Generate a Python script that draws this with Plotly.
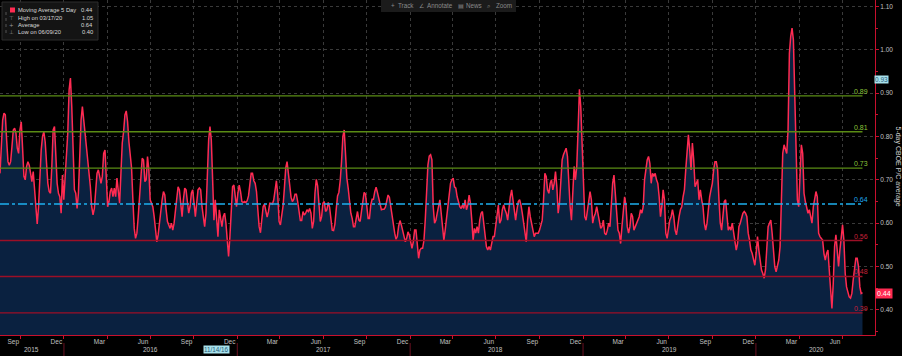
import pandas as pd
import plotly.graph_objects as go

# ---------------- data ----------------
vals_2015_2016 = [
    0.715, 0.777, 0.838, 0.854, 0.850, 0.792, 0.742, 0.734, 0.742, 0.777,
    0.815, 0.819, 0.808, 0.773, 0.761, 0.815, 0.834, 0.773, 0.708, 0.700,
    0.731, 0.742, 0.734, 0.715, 0.696, 0.719, 0.684, 0.638, 0.598, 0.638,
    0.723, 0.769, 0.800, 0.811, 0.788, 0.738, 0.692, 0.673, 0.669, 0.731,
    0.815, 0.823, 0.761, 0.692, 0.669, 0.661, 0.623, 0.711, 0.654, 0.708,
    0.761, 0.808, 0.908, 0.935, 0.869, 0.761, 0.677, 0.669, 0.634, 0.669,
    0.761, 0.838, 0.869, 0.831, 0.808, 0.777, 0.746, 0.719, 0.684, 0.638,
    0.619, 0.634, 0.684, 0.715, 0.723, 0.708, 0.692, 0.708, 0.761, 0.769,
    0.684, 0.638, 0.650, 0.673, 0.681, 0.661, 0.681, 0.661, 0.704, 0.669,
    0.646, 0.715, 0.785, 0.811, 0.850, 0.859, 0.834, 0.788, 0.754, 0.727,
    0.654, 0.588, 0.565, 0.577, 0.615, 0.669, 0.719, 0.750, 0.746, 0.696,
    0.700, 0.754, 0.723, 0.654, 0.646, 0.638, 0.615, 0.584, 0.557, 0.573,
    0.604, 0.627, 0.654, 0.673, 0.665, 0.631, 0.604, 0.596, 0.588, 0.600,
    0.584, 0.600, 0.631, 0.669, 0.684, 0.677, 0.638, 0.615, 0.654, 0.681,
    0.677, 0.646, 0.623, 0.638, 0.669, 0.677, 0.638, 0.615, 0.646, 0.677,
    0.681, 0.677, 0.638, 0.607, 0.592, 0.623, 0.723, 0.792, 0.823, 0.792,
    0.700, 0.607,
]
vals_2016_2017 = [
    0.654, 0.607, 0.569, 0.631, 0.607, 0.592, 0.615, 0.623, 0.600, 0.561,
    0.523, 0.569, 0.631, 0.684, 0.688, 0.661, 0.638, 0.669, 0.688, 0.673,
    0.650, 0.648, 0.650, 0.648, 0.652, 0.663, 0.684, 0.715, 0.715, 0.698,
    0.692, 0.673, 0.631, 0.592, 0.578, 0.604, 0.638, 0.644, 0.631, 0.614,
    0.627, 0.646, 0.646, 0.644, 0.654, 0.681, 0.698, 0.665, 0.604, 0.596,
    0.619, 0.640, 0.681, 0.727, 0.742, 0.711, 0.677, 0.660, 0.650, 0.655,
    0.667, 0.667, 0.650, 0.631, 0.606, 0.606, 0.627, 0.619, 0.623, 0.631,
    0.627, 0.634, 0.623, 0.588, 0.604, 0.669, 0.701, 0.686, 0.638, 0.604,
    0.615, 0.646, 0.650, 0.627, 0.631, 0.648, 0.637, 0.607, 0.584, 0.583,
    0.598, 0.632, 0.663, 0.671, 0.698, 0.742, 0.800, 0.815, 0.746, 0.704,
    0.681, 0.646, 0.623, 0.611, 0.592, 0.592, 0.615, 0.627, 0.607, 0.604,
    0.627, 0.654, 0.671, 0.667, 0.642, 0.611, 0.611, 0.642, 0.655, 0.655,
    0.673, 0.683, 0.671, 0.655, 0.640, 0.631, 0.632, 0.632, 0.637, 0.652,
    0.665, 0.660, 0.637, 0.611, 0.592, 0.577, 0.563, 0.570, 0.594, 0.606,
    0.596, 0.580, 0.569, 0.557, 0.565, 0.580, 0.573, 0.553, 0.542, 0.557,
    0.584, 0.584, 0.542, 0.519, 0.538, 0.542, 0.542, 0.560, 0.607, 0.677,
    0.734, 0.755,
]
vals_2018_2019 = [
    0.758, 0.746, 0.638, 0.600, 0.607, 0.623, 0.638, 0.654, 0.623, 0.584,
    0.561, 0.584, 0.615, 0.638, 0.669, 0.692, 0.700, 0.704, 0.684, 0.681,
    0.661, 0.646, 0.638, 0.634, 0.642, 0.634, 0.654, 0.631, 0.642, 0.665,
    0.646, 0.607, 0.561, 0.588, 0.577, 0.592, 0.577, 0.607, 0.623, 0.627,
    0.600, 0.569, 0.546, 0.538, 0.546, 0.538, 0.553, 0.569, 0.569, 0.592,
    0.623, 0.642, 0.600, 0.607, 0.631, 0.642, 0.631, 0.623, 0.607, 0.638,
    0.661, 0.677, 0.650, 0.623, 0.607, 0.631, 0.650, 0.654, 0.642, 0.623,
    0.600, 0.577, 0.557, 0.607, 0.638, 0.615, 0.600, 0.577, 0.569, 0.577,
    0.577, 0.577, 0.584, 0.600, 0.607, 0.654, 0.715, 0.708, 0.677, 0.669,
    0.692, 0.700, 0.677, 0.692, 0.719, 0.684, 0.623, 0.646, 0.700, 0.746,
    0.758, 0.765, 0.773, 0.754, 0.684, 0.638, 0.607, 0.669, 0.731, 0.700,
    0.731, 0.815, 0.909, 0.869, 0.792, 0.684, 0.615, 0.607, 0.634, 0.661,
    0.673, 0.654, 0.600, 0.615, 0.623, 0.638, 0.623, 0.607, 0.588, 0.592,
    0.607, 0.577, 0.573, 0.584, 0.600, 0.592, 0.638, 0.692, 0.711, 0.661,
    0.607, 0.584, 0.577, 0.553, 0.592, 0.638, 0.661, 0.642, 0.592, 0.577,
    0.592, 0.623, 0.615, 0.584, 0.592, 0.600, 0.607, 0.615, 0.631, 0.623,
    0.638, 0.700,
]
vals_2019_2020 = [
    0.723, 0.746, 0.754, 0.738, 0.692, 0.715, 0.708, 0.715, 0.700, 0.692,
    0.661, 0.615, 0.638, 0.677, 0.654, 0.577, 0.565, 0.592, 0.607, 0.615,
    0.631, 0.615, 0.584, 0.573, 0.600, 0.615, 0.631, 0.638, 0.661, 0.677,
    0.723, 0.765, 0.804, 0.769, 0.723, 0.785, 0.746, 0.684, 0.692, 0.700,
    0.654, 0.677, 0.654, 0.638, 0.600, 0.584, 0.600, 0.638, 0.661, 0.677,
    0.692, 0.723, 0.742, 0.742, 0.723, 0.654, 0.600, 0.584, 0.623, 0.650,
    0.654, 0.607, 0.584, 0.592, 0.584, 0.600, 0.577, 0.561, 0.538, 0.553,
    0.592, 0.600, 0.615, 0.623, 0.627, 0.623, 0.615, 0.577, 0.561, 0.538,
    0.530, 0.515, 0.503, 0.530, 0.569, 0.538, 0.507, 0.492, 0.484, 0.473,
    0.492, 0.546, 0.592, 0.600, 0.607, 0.577, 0.530, 0.500, 0.488, 0.500,
    0.515, 0.546, 0.638, 0.761, 0.781, 0.769, 0.761, 0.815, 0.992, 1.031,
    1.050, 1.023, 0.915, 0.761, 0.654, 0.638, 0.723, 0.781, 0.761, 0.669,
    0.650, 0.638, 0.623, 0.631, 0.615, 0.600, 0.638, 0.661, 0.673, 0.661,
    0.577, 0.569, 0.565, 0.561, 0.530, 0.515, 0.530, 0.538, 0.492, 0.438,
    0.403, 0.461, 0.546, 0.573, 0.530, 0.500, 0.538, 0.577, 0.596, 0.561,
    0.484, 0.453, 0.438, 0.430, 0.427, 0.438, 0.469, 0.496, 0.519, 0.519,
    0.500, 0.453, 0.438, 0.440,
]
start_date = "2015-08-19"
end_date = "2020-08-13"
axis_end = "2020-09-08 10:00"

upper_bands = [0.894, 0.811, 0.727]
average_level = 0.644
lower_bands = [0.560, 0.477, 0.393]

y_ticks = [0.40, 0.50, 0.60, 0.70, 0.80, 0.90, 1.00, 1.10]

month_ticks = ["2015-09-16", "2015-12-16", "2016-03-16", "2016-06-16", "2016-09-16",
               "2016-12-16", "2017-03-16", "2017-06-16", "2017-09-16", "2017-12-16",
               "2018-03-16", "2018-06-16", "2018-09-16", "2018-12-16", "2019-03-16",
               "2019-06-16", "2019-09-16", "2019-12-16", "2020-03-16", "2020-06-16"]
month_text = ["Sep", "Dec", "Mar", "Jun", "Sep", "Dec", "Mar", "Jun", "Sep", "Dec",
              "Mar", "Jun", "Sep", "Dec", "Mar", "Jun", "Sep", "Dec", "Mar", "Jun"]
year_text = ["2015", "2016", "2017", "2018", "2019", "2020"]
year_pos = ["2015-10-25", "2016-07-02", "2017-07-01", "2018-07-01", "2019-07-02", "2020-05-07"]
year_starts = ["2016-01-01", "2017-01-01", "2018-01-01", "2019-01-01", "2020-01-01"]

legend_rows = [("Moving Average 5 Day", "0.44"), ("High on 03/17/20", "1.05"),
               ("Average", "0.64"), ("Low on 06/09/20", "0.40")]

# ---------------- figure ----------------
values = vals_2015_2016 + vals_2016_2017 + vals_2018_2019 + vals_2019_2020
dates = pd.date_range(start_date, end_date, periods=len(values))

W, H = 902, 356
ML, MR, MT, MB = 0, 27, 0, 21
PW, PH = W - ML - MR, H - MT - MB


def px(x):
    return x / PW


def py(y):
    return 1 - y / PH


FONT = "Liberation Sans Narrow, Liberation Sans, Arial, sans-serif"
RED_AX = "#c8102e"
GRID = "#3a3a3a"

fig = go.Figure()
fig.add_trace(go.Scatter(
    x=dates, y=values, mode="lines",
    line=dict(color="#ff2b52", width=1.5),
    fill="tozeroy", fillcolor="#0a2140",
    hoverinfo="skip",
))

shapes = []
annotations = []

band_specs = ([(v, "#5a8c14", "#8cc43a", "solid") for v in upper_bands]
              + [(average_level, "#1eb0ee", "#1eaaf0", "dashdot")]
              + [(v, "#9c0f26", "#c8203a", "solid") for v in lower_bands])
for val, lc, tc, dash in band_specs:
    shapes.append(dict(type="line", xref="x", yref="y", x0=start_date, x1=end_date,
                       y0=val, y1=val, layer="above",
                       line=dict(color=lc, width=1.3 if dash == "solid" else 1.5, dash=dash)))
    annotations.append(dict(xref="paper", yref="y", x=px(870), y=val, xanchor="right",
                            yanchor="bottom", text=f"{val:.2f}", showarrow=False,
                            font=dict(family=FONT, size=7, color=tc), yshift=-1))

# year separators on the date axis
for ys in year_starts:
    shapes.append(dict(type="line", xref="x", yref="paper", x0=ys, x1=ys,
                       y0=-8 / PH, y1=-21 / PH, line=dict(color="#6a1020", width=1)))
for t, p in zip(year_text, year_pos):
    annotations.append(dict(xref="x", yref="paper", x=p, y=-14 / PH, text=t,
                            showarrow=False, font=dict(family=FONT, size=6.5, color="#c0c0c0"),
                            yanchor="middle"))

# legend box
shapes.append(dict(type="rect", xref="paper", yref="paper", x0=px(2), x1=px(98),
                   y0=py(40), y1=py(2), fillcolor="#141414",
                   line=dict(color="#2c2c2c", width=1), layer="above"))
shapes.append(dict(type="rect", xref="paper", yref="paper", x0=px(10), x1=px(15),
                   y0=py(12.5), y1=py(7.5), fillcolor="#ff2b52",
                   line=dict(width=0), layer="above"))
shapes.append(dict(type="line", xref="paper", yref="paper", x0=px(6), x1=px(6),
                   y0=py(12), y1=py(34), line=dict(color="#555", width=1, dash="dot"),
                   layer="above"))
icons = ["", "⊤", "+", "⊥"]
row_y = [10, 17.5, 25, 32.5]
for (lbl, v), ic, ry in zip(legend_rows, icons, row_y):
    annotations.append(dict(xref="paper", yref="paper", x=px(16), y=py(ry), text=lbl,
                            xanchor="left", yanchor="middle", showarrow=False,
                            font=dict(family=FONT, size=5.8, color="#d8d8d8")))
    annotations.append(dict(xref="paper", yref="paper", x=px(95), y=py(ry), text=v,
                            xanchor="right", yanchor="middle", showarrow=False,
                            font=dict(family=FONT, size=5.8, color="#d8d8d8")))
    if ic:
        annotations.append(dict(xref="paper", yref="paper", x=px(11), y=py(ry), text=ic,
                                xanchor="center", yanchor="middle", showarrow=False,
                                font=dict(family="DejaVu Sans", size=5.5, color="#9a9a9a")))

# toolbar
shapes.append(dict(type="rect", xref="paper", yref="paper", x0=px(381), x1=px(516),
                   y0=py(12), y1=py(0), fillcolor="#1b1b1b", line=dict(width=0),
                   layer="above"))
for t, xx in [("+", 389), ("Track", 396), ("∠", 417), ("Annotate", 425),
              ("▤", 456), ("News", 464), ("⌕", 485), ("Zoom", 494)]:
    annotations.append(dict(xref="paper", yref="paper", x=px(xx), y=py(6), text=t,
                            xanchor="left", yanchor="middle", showarrow=False,
                            font=dict(family=FONT, size=6.3, color="#8a8a8a")))

# axis title and value flags
annotations.append(dict(xref="paper", yref="paper", x=px(897.5), y=py(166),
                        xanchor="center", yanchor="middle",
                        text="5-day CBOE P/C average", textangle=90, showarrow=False,
                        font=dict(family=FONT, size=7, color="#d0d0d0")))
annotations.append(dict(xref="paper", yref="paper", x=px(881), y=py(79), text="0.93",
                        xanchor="center", yanchor="middle",
                        showarrow=False, bgcolor="#a8e2ec", borderpad=0,
                        font=dict(family=FONT, size=6.5, color="#2a5a78")))
annotations.append(dict(xref="paper", yref="paper", x=px(883.5), y=py(293), text="0.44",
                        xanchor="center", yanchor="middle",
                        showarrow=False, bgcolor="#ff2b52", borderpad=1,
                        font=dict(family=FONT, size=7, color="#ffffff")))
annotations.append(dict(xref="paper", yref="paper", x=px(216), y=py(350), text="11/14/16",
                        xanchor="center", yanchor="middle",
                        showarrow=False, bgcolor="#a8e2ec", borderpad=0,
                        font=dict(family=FONT, size=6.3, color="#2a5a78")))

fig.update_layout(
    width=W, height=H,
    margin=dict(l=ML, r=MR, t=MT, b=MB, autoexpand=False),
    paper_bgcolor="#000000", plot_bgcolor="#000000",
    showlegend=False,
    font=dict(family=FONT, size=7, color="#c0c0c0"),
    xaxis=dict(
        type="date", range=[start_date, axis_end],
        tickmode="array", tickvals=month_ticks, ticktext=month_text,
        ticks="", showgrid=False, zeroline=False,
        showline=True, linecolor=RED_AX, linewidth=1,
        tickfont=dict(family=FONT, size=6.5, color="#c0c0c0"),
        minor=dict(tickmode="linear", dtick="M3", tick0="2015-10-01", showgrid=True,
                   gridcolor=GRID, griddash="dot", gridwidth=1,
                   ticks="outside", ticklen=3, tickcolor=RED_AX),
        fixedrange=True,
    ),
    yaxis=dict(
        side="right", range=[0.342, 1.115],
        tickmode="array", tickvals=y_ticks, tickformat=".2f",
        ticks="outside", ticklen=3, tickcolor=RED_AX,
        showline=True, linecolor=RED_AX, linewidth=1,
        showgrid=True, gridcolor=GRID, griddash="dot", gridwidth=1,
        zeroline=False,
        minor=dict(tickmode="linear", dtick=0.05, tick0=0.0, ticks="outside",
                   ticklen=2, tickcolor=RED_AX, showgrid=False),
        tickfont=dict(family=FONT, size=6.5, color="#c0c0c0"),
        ticklabelstandoff=0,
        fixedrange=True,
    ),
    shapes=shapes,
    annotations=annotations,
)

fig.write_html("out.html", config={"displayModeBar": False},
               post_script="document.body.style.margin='0';document.body.style.background='#000';")
